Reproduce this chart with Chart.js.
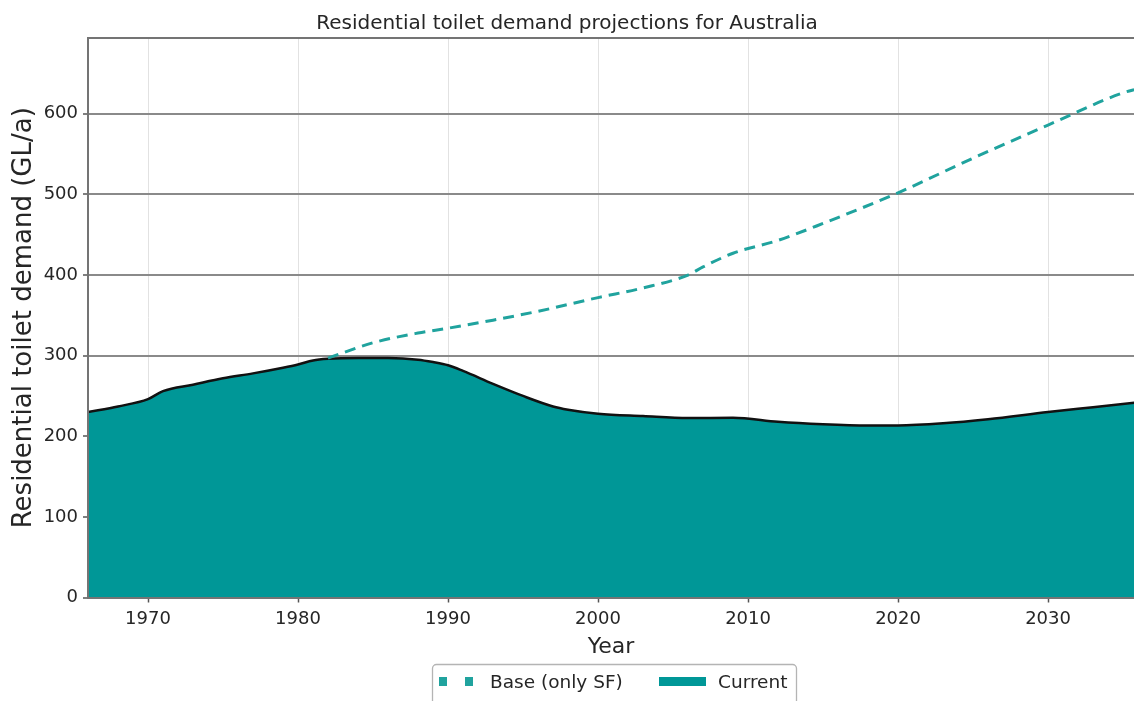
<!DOCTYPE html>
<html>
<head>
<meta charset="utf-8">
<title>Residential toilet demand projections for Australia</title>
<script src="https://cdn.jsdelivr.net/npm/chart.js@4.4.1/dist/chart.umd.min.js"></script>
<style>
  html, body { margin: 0; padding: 0; background: #ffffff; }
  #wrap { width: 1134px; height: 701px; }
</style>
</head>
<body>
<div id="wrap"><canvas id="chart" width="1134" height="701"></canvas></div>
<script>
// ---- data ---------------------------------------------------------------
const chartTitle = 'Residential toilet demand projections for Australia';
const xAxisTitle = 'Year';
const yAxisTitle = 'Residential toilet demand (GL/a)';

// Current demand (GL/a)
const currentYears = [1966, 1968, 1970, 1971, 1973, 1975, 1977, 1979, 1980, 1981,
  1982, 1984, 1986, 1988, 1989, 1990, 1991, 1993, 1995, 1997, 1998, 2000,
  2003, 2006, 2009, 2012, 2015, 2018, 2020, 2023, 2026, 2030, 2033, 2036];
const currentValues = [230, 237, 246, 256, 264, 272, 278, 285, 289, 294,
  296, 297, 297, 295, 292, 288, 281, 265, 250, 237, 233, 228,
  225, 222.5, 223, 218, 215, 213.5, 213.5, 216, 221, 230, 236, 242];

// Base scenario, single-family only (GL/a)
const baseYears = [1982, 1985, 1988, 1990, 1993, 1996, 2000, 2003, 2006, 2007,
  2009, 2012, 2015, 2020, 2025, 2030, 2035, 2036];
const baseValues = [297, 316, 328, 334, 344, 355, 372, 384, 400, 410,
  427, 443, 464, 502, 545, 586, 626, 631];

const yearTicks = [1970, 1980, 1990, 2000, 2010, 2020, 2030];
const demandTicks = [0, 100, 200, 300, 400, 500, 600];

// ---- styling ------------------------------------------------------------
const FONT = "'DejaVu Sans', 'Liberation Sans', sans-serif";
const TEXT = '#262626';
const FILL = '#009797';
const DASH = '#20a39e';
const FRAME = '#747474';

const toPoints = (xs, ys) => xs.map((x, i) => ({ x: x, y: ys[i] }));

// top frame line and boxed legend underneath the x axis title
const framePlugin = {
  id: 'frameAndLegend',
  afterDraw(chart) {
    const { ctx, chartArea: a } = chart;
    ctx.save();
    ctx.strokeStyle = FRAME;
    ctx.lineWidth = 2;
    ctx.beginPath();
    ctx.moveTo(a.left - 1, a.top);
    ctx.lineTo(a.right, a.top);
    ctx.stroke();

    // legend box
    const ds = chart.data.datasets;
    const lx = 432.5, ly = 664.5, lw = 364, lh = 40;
    ctx.strokeStyle = '#b4b4b4';
    ctx.lineWidth = 1.3;
    ctx.beginPath();
    ctx.roundRect(lx, ly, lw, lh, 4);
    ctx.stroke();

    ctx.font = '18.5px ' + FONT;
    ctx.fillStyle = TEXT;
    ctx.textBaseline = 'alphabetic';
    ctx.textAlign = 'left';
    const baseline = 688;

    // dashed handle: two dash segments
    ctx.fillStyle = ds[0].borderColor;
    ctx.fillRect(lx + 6.5, 677, 8, 9);
    ctx.fillRect(lx + 32.5, 677, 8, 9);
    ctx.fillStyle = TEXT;
    ctx.fillText(ds[0].label, lx + 57.5, baseline);

    // solid handle for the filled area
    ctx.fillStyle = ds[1].backgroundColor;
    ctx.fillRect(lx + 226.5, 677, 47, 9);
    ctx.fillStyle = TEXT;
    ctx.fillText(ds[1].label, lx + 285.5, baseline);
    ctx.restore();
  }
};

new Chart(document.getElementById('chart'), {
  type: 'line',
  data: {
    datasets: [
      {
        label: 'Base (only SF)',
        data: toPoints(baseYears, baseValues),
        borderColor: DASH,
        borderWidth: 3,
        borderDash: [11, 7],
        pointRadius: 0,
        fill: false,
        cubicInterpolationMode: 'monotone'
      },
      {
        label: 'Current',
        data: toPoints(currentYears, currentValues),
        borderColor: '#111111',
        borderWidth: 2.5,
        backgroundColor: FILL,
        fill: 'origin',
        pointRadius: 0,
        cubicInterpolationMode: 'monotone'
      }
    ]
  },
  options: {
    responsive: false,
    animation: false,
    devicePixelRatio: 1,
    layout: { padding: { left: 0, right: 0, top: 0, bottom: 37 } },
    plugins: {
      legend: { display: false },
      tooltip: { enabled: false },
      title: {
        display: true,
        text: chartTitle,
        color: TEXT,
        font: { family: FONT, size: 20, weight: 'normal' },
        padding: { top: 12, bottom: 2 }
      }
    },
    scales: {
      x: {
        type: 'linear',
        min: 1966,
        max: 2035.73,
        afterBuildTicks: (s) => { s.ticks = yearTicks.map(v => ({ value: v })); },
        afterFit: (s) => { s.height = 66.5; },
        ticks: {
          color: TEXT,
          font: { family: FONT, size: 18 },
          padding: 6,
          maxRotation: 0,
          callback: (v) => String(v)
        },
        grid: {
          color: '#e2e2e2',
          lineWidth: 1,
          borderDash: [2, 3],
          drawTicks: true,
          tickLength: 5,
          tickColor: '#555555',
          tickWidth: 1.5,
          tickBorderDash: []
        },
        border: { display: true, color: FRAME, width: 2, z: 1 },
        title: {
          display: true,
          text: xAxisTitle,
          color: TEXT,
          font: { family: FONT, size: 22 },
          padding: { top: 0, bottom: 4 }
        }
      },
      y: {
        min: 0,
        max: 694,
        afterBuildTicks: (s) => { s.ticks = demandTicks.map(v => ({ value: v })); },
        afterFit: (s) => { s.width = 88; },
        ticks: {
          color: TEXT,
          font: { family: FONT, size: 18 },
          padding: 5,
          callback: (v) => String(v)
        },
        grid: {
          color: '#8a8a8a',
          lineWidth: 2,
          drawTicks: true,
          tickLength: 5,
          tickColor: '#555555',
          tickWidth: 1.5
        },
        border: { display: true, color: FRAME, width: 2, z: 1 },
        title: {
          display: true,
          text: yAxisTitle,
          color: TEXT,
          font: { family: FONT, size: 26 },
          padding: { top: 9, bottom: 0 }
        }
      }
    }
  },
  plugins: [framePlugin]
});
</script>
</body>
</html>
